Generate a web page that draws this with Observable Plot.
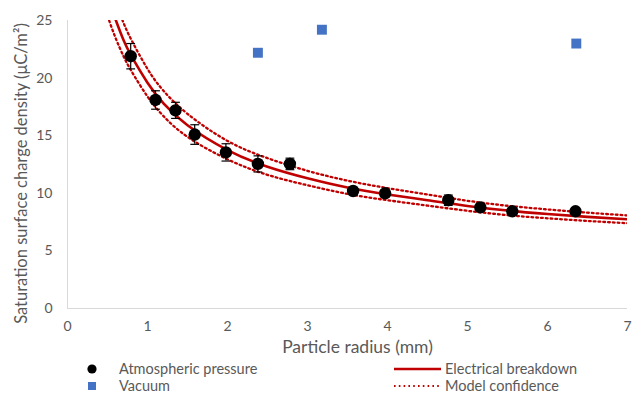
<!DOCTYPE html>
<html>
<head>
<meta charset="utf-8">
<script src="https://cdn.jsdelivr.net/npm/d3@7"></script>
<script src="https://cdn.jsdelivr.net/npm/@observablehq/plot@0.6"></script>
<style>
  html, body { margin: 0; padding: 0; background: #fff; }
  body { width: 632px; height: 393px; overflow: hidden; font-family: Lato, "Open Sans", sans-serif; }
  #legend { position: relative; width: 632px; height: 41px; font-size: 14.5px; color: #595959; }
  .item { position: absolute; height: 14px; line-height: 14px; white-space: nowrap; }
  .item svg { position: absolute; top: 0; }
</style>
</head>
<body>
<div id="chart"></div>
<div id="legend"></div>
<script>
// Atmospheric pressure measurements
const atmRadius = [0.79, 1.10, 1.35, 1.59, 1.98, 2.38, 2.78, 3.57, 3.97, 4.76, 5.16, 5.56, 6.35];
const atmDensity = [21.9, 18.1, 17.2, 15.1, 13.55, 12.55, 12.55, 10.2, 10.0, 9.4, 8.78, 8.44, 8.44];
const atmError = [1.1, 0.8, 0.7, 0.85, 0.75, 0.7, 0.5, 0.3, 0.3, 0.45, 0.3, 0.3, 0.3];
// Vacuum measurements
const vacRadius = [2.38, 3.18, 6.36];
const vacDensity = [22.2, 24.2, 23.0];
// Electrical breakdown model curve and confidence band
const modelRadius = [0.5, 0.6, 0.7, 0.8, 1.0, 1.2, 1.5, 2.0, 2.5, 3.0, 3.5, 4.0, 4.5, 5.0, 5.5, 6.0, 6.5, 7.0];
const modelFit = [27.0, 25.1, 23.3, 21.9, 19.6, 17.8, 15.9, 13.75, 12.3, 11.3, 10.5, 9.9, 9.4, 8.9, 8.5, 8.2, 7.95, 7.75];
const modelUpper = [28.6, 26.6, 24.8, 23.3, 20.8, 18.9, 16.9, 14.55, 13.05, 11.95, 11.1, 10.45, 9.9, 9.35, 8.92, 8.6, 8.32, 8.08];
const modelLower = [25.4, 23.5, 21.9, 20.6, 18.4, 16.7, 14.9, 12.95, 11.6, 10.7, 9.95, 9.4, 8.93, 8.48, 8.1, 7.83, 7.6, 7.4];
const xTicks = [0, 1, 2, 3, 4, 5, 6, 7];
const yTicks = [0, 5, 10, 15, 20, 25];

const atm = atmRadius.map((r, i) => ({r, y: atmDensity[i], e: atmError[i]}));
const vac = vacRadius.map((r, i) => ({r, y: vacDensity[i]}));
const model = modelRadius.map((r, i) => ({r, fit: modelFit[i], up: modelUpper[i], lo: modelLower[i]}));

const red = "#C00000";
const chart = Plot.plot({
  width: 632,
  height: 352,
  marginLeft: 67,
  marginRight: 5,
  marginTop: 20,
  marginBottom: 44,
  style: {fontFamily: "Lato, 'Open Sans', sans-serif", fontSize: "14px", color: "#595959", background: "#fff", overflow: "visible"},
  x: {type: "linear", domain: [0, 7]},
  y: {type: "linear", domain: [0, 25]},
  marks: [
    Plot.ruleX([0], {stroke: "#d9d9d9", strokeWidth: 1}),
    Plot.ruleY([0], {stroke: "#d9d9d9", strokeWidth: 1}),
    Plot.line(model, {x: "r", y: "up", stroke: red, strokeWidth: 2.3, strokeDasharray: "1.8,3", curve: "natural", clip: true}),
    Plot.line(model, {x: "r", y: "lo", stroke: red, strokeWidth: 2.3, strokeDasharray: "1.8,3", curve: "natural", clip: true}),
    Plot.line(model, {x: "r", y: "fit", stroke: red, strokeWidth: 2.6, curve: "natural", clip: true}),
    Plot.ruleX(atm, {x: "r", y1: d => d.y - d.e, y2: d => d.y + d.e, stroke: "#000", strokeWidth: 1.2}),
    Plot.link(atm, {x1: d => d.r - 0.055, x2: d => d.r + 0.055, y1: d => d.y + d.e, y2: d => d.y + d.e, stroke: "#000", strokeWidth: 1.2}),
    Plot.link(atm, {x1: d => d.r - 0.055, x2: d => d.r + 0.055, y1: d => d.y - d.e, y2: d => d.y - d.e, stroke: "#000", strokeWidth: 1.2}),
    Plot.dot(atm, {x: "r", y: "y", r: 6.2, fill: "#000", stroke: null}),
    Plot.dot(vac, {x: "r", y: "y", symbol: "square", r: 5.6, fill: "#4472C4", stroke: null}),
    Plot.axisY({ticks: yTicks, tickSize: 0, tickPadding: 15, tickFormat: d3.format("d"), label: null}),
    Plot.axisX({ticks: xTicks, tickSize: 0, tickPadding: 13, tickFormat: d3.format("d"), label: null}),
    Plot.text(["Saturation surface charge density (μC/m²)"], {frameAnchor: "left", textAnchor: "middle", lineAnchor: "middle", dx: -46, dy: 9, rotate: -90, fontSize: 16.5, fill: "#595959"}),
    Plot.text(["Particle radius (mm)"], {frameAnchor: "bottom", lineAnchor: "middle", dx: 10, dy: 39, fontSize: 17.5, fill: "#595959"})
  ]
});
document.getElementById("chart").appendChild(chart);

// legend
const legend = d3.select("#legend");
const items = [
  {mark: 86, text: 119, top: 9.5, label: "Atmospheric pressure", kind: "circle"},
  {mark: 86, text: 119, top: 27, label: "Vacuum", kind: "square"},
  {mark: 393, text: 445, top: 9.5, label: "Electrical breakdown", kind: "line"},
  {mark: 393, text: 445, top: 27, label: "Model confidence", kind: "dotted"}
];
items.forEach(it => {
  const div = legend.append("div").attr("class", "item").style("left", it.mark + "px").style("top", it.top + "px");
  const s = div.append("svg").attr("width", 50).attr("height", 14).style("left", "0px");
  if (it.kind === "circle") s.append("circle").attr("cx", 6).attr("cy", 7).attr("r", 4.6).attr("fill", "#000");
  if (it.kind === "square") s.append("rect").attr("x", 2).attr("y", 3).attr("width", 8).attr("height", 8).attr("fill", "#4472C4");
  if (it.kind === "line") s.append("line").attr("x1", 1).attr("x2", 48).attr("y1", 7).attr("y2", 7).attr("stroke", red).attr("stroke-width", 2.6);
  if (it.kind === "dotted") s.append("line").attr("x1", 1).attr("x2", 48).attr("y1", 7).attr("y2", 7).attr("stroke", red).attr("stroke-width", 2).attr("stroke-dasharray", "1.6,3.2");
  div.append("span").style("position", "absolute").style("left", (it.text - it.mark) + "px").text(it.label);
});
</script>
</body>
</html>
